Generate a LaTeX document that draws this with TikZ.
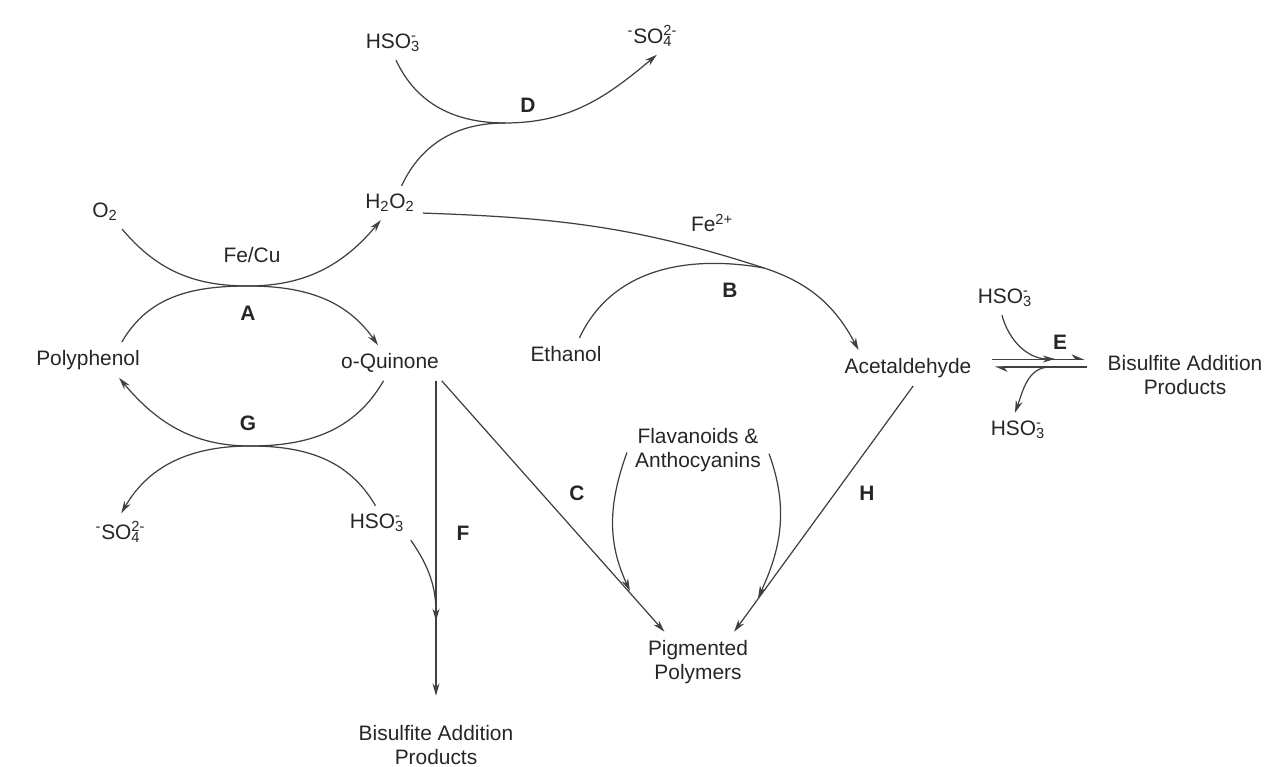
\documentclass[tikz,border=0pt]{standalone}
\usepackage{fontspec}
\setmainfont{Liberation Sans}
\usetikzlibrary{arrows.meta}
\newcommand{\ionss}[2]{\rlap{\textsuperscript{#2}}\textsubscript{#1}}

\begin{document}
\begin{tikzpicture}[x=0.02cm,y=0.02cm,
    every node/.style={font=\fontsize{11.9}{14}\selectfont,text=black!85,inner sep=4.5pt,align=center},
    lbl/.style={font=\fontsize{11.9}{14}\selectfont\bfseries,inner sep=1pt},
    link/.style={line width=0.7pt,draw=black!75},
    rxn/.style={link,-{Stealth[length=7pt,width=4pt]}},
    harp/.style={link,-{Stealth[harpoon,length=6.5pt,width=5.5pt]},shorten <=7pt,shorten >=8.5pt}]
    \useasboundingbox (0,0) rectangle (1274,767);
    \node (hso3D) at (393,724) {HSO\ionss{3}{-}};
    \node (so4D) at (650,731) {\textsuperscript{-}SO\ionss{4}{2-}};
    \node[lbl] (lD) at (528,662) {D};
    \coordinate (mD) at (505,644);
    \node (o2) at (105,555) {O\textsubscript{2}};
    \node (h2o2) at (390,564) {H\textsubscript{2}O\textsubscript{2}};
    \node (fecu) at (252,512) {Fe/Cu};
    \node[lbl] (lA) at (248,454) {A};
    \coordinate (mA) at (248,481);
    \node (poly) at (88,407) {Polyphenol};
    \node (oquin) at (390,404) {o-Quinone};
    \node[lbl] (lG) at (248,344) {G};
    \coordinate (mG) at (250,321);
    \node (so4G) at (118,235) {\textsuperscript{-}SO\ionss{4}{2-}};
    \node (hso3G) at (377,244) {HSO\ionss{3}{-}};
    \node[lbl] (lF) at (463,234) {F};
    \node (bapF) at (436,22) {Bisulfite Addition\\Products};
    \node (eth) at (566,413) {Ethanol};
    \node[lbl] (lB) at (730,477) {B};
    \node (fe2) at (712,544) {Fe\textsuperscript{2+}};
    \coordinate (mB) at (764,499);
    \node (acet) at (908,399) {Acetaldehyde};
    \node (hso3Ein) at (1005,469) {HSO\ionss{3}{-}};
    \node[lbl] (lE) at (1060,425) {E};
    \node (hso3Eout) at (1018,337) {HSO\ionss{3}{-}};
    \node (bapE) at (1185,392) {Bisulfite Addition\\Products};
    \node (flav) at (698,317) {Flavanoids \&\\Anthocyanins};
    \node[lbl] (lC) at (577,274) {C};
    \node[lbl] (lH) at (867,274) {H};
    \node (pig) at (698,105) {Pigmented\\Polymers};
    \coordinate (fjoin) at (436,146);
    \coordinate (cjoin) at (630,176);
    \coordinate (hjoin) at (758,169);
    \coordinate (ein) at (1055,408);
    \coordinate (eout) at (1050,400);
    \draw[rxn] (o2.-45) to[out=-50,in=180] (mA) to[out=0,in=-130] (h2o2.-118);
    \draw[rxn] (poly.28) to[out=60,in=180] (mA) to[out=0,in=125] (oquin.124);
    \draw[rxn] (oquin.-110) to[out=-120,in=0] (mG) to[out=180,in=-50] (poly.-30);
    \draw[rxn] (hso3G.95) to[out=120,in=0] (mG) to[out=180,in=60] (so4G.80);
    \draw[rxn] (hso3D.-80) to[out=-65,in=180] (mD) to[out=0,in=-140] (so4D.-70);
    \draw[link] (h2o2.56) to[out=65,in=180] (mD);
    \draw[rxn] (h2o2.-17) to[out=-2,in=162] (mB) to[out=-18,in=118] (acet.160);
    \draw[link] (eth.50) to[out=65,in=170] (mB);
    \draw[rxn] (oquin.south -| bapF.north) -- ([yshift=12pt]bapF.north);
    \draw[rxn] (hso3G.-27) to[out=-55,in=90] (fjoin);
    \draw[rxn] (oquin.-19) -- (pig.138);
    \draw[rxn] (acet.-74) -- (pig.40);
    \draw[rxn] (flav.182) to[out=-110,in=115] (cjoin);
    \draw[rxn] (flav.-3) to[out=-70,in=65] (hjoin);
    \draw[harp] ([yshift=5pt]acet.east) -- ([yshift=5pt]acet.east -| bapE.west);
    \draw[harp] ([yshift=0.6pt]acet.east -| bapE.west) -- ([yshift=0.6pt]acet.east);
    \draw[rxn] (hso3Ein.-100) to[out=-75,in=180] (ein);
    \draw[rxn] (eout) to[out=180,in=70] (hso3Eout.100);
\end{tikzpicture}
\end{document}
